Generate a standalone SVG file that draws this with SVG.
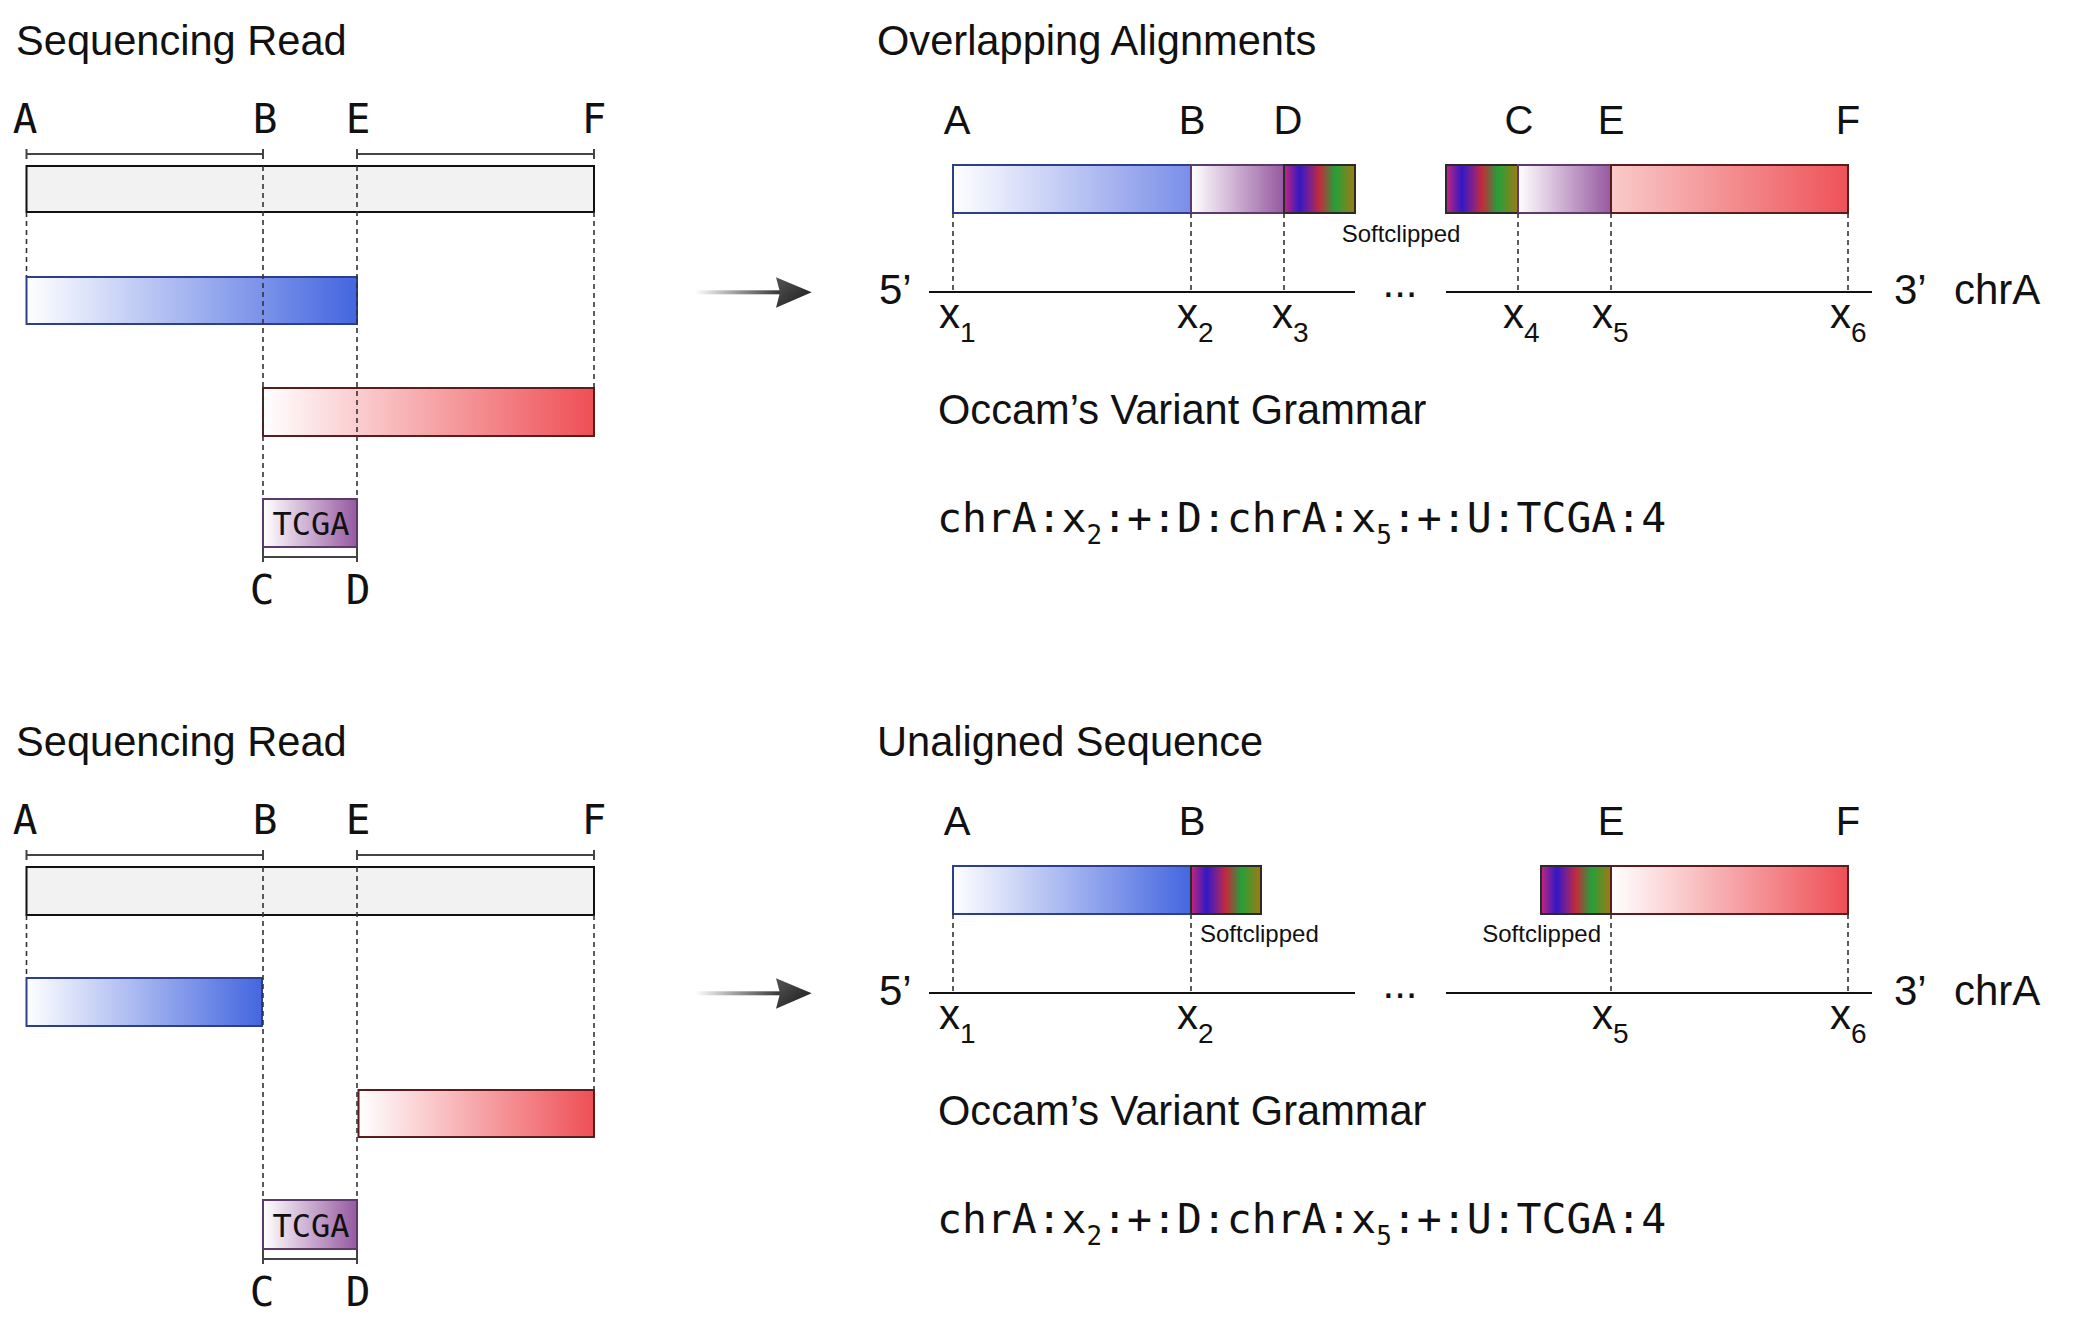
<svg xmlns="http://www.w3.org/2000/svg" width="2073" height="1335" viewBox="0 0 2073 1335">
<style>
.title{font-family:"Liberation Sans",Arial,sans-serif;font-size:41.6px;fill:#111}
.lab{font-family:"Liberation Sans",Arial,sans-serif;font-size:40px;fill:#111;text-anchor:middle}
.mlab{font-family:"DejaVu Sans Mono",monospace;font-size:41px;fill:#111;text-anchor:middle}
.xl{font-family:"Liberation Sans",Arial,sans-serif;font-size:42px;fill:#111}
.sub{font-size:28px}
.msub{font-size:26px}
.soft{font-family:"Liberation Sans",Arial,sans-serif;font-size:24px;fill:#111}
.gram{font-family:"DejaVu Sans Mono",monospace;font-size:41.4px;fill:#111}
.tcga{font-family:"DejaVu Sans Mono",monospace;font-size:32px;fill:#111;text-anchor:middle}
.grey{fill:#f2f2f2;stroke:#111;stroke-width:2}
.blue{stroke:#2c3e8e;stroke-width:2}
.red{stroke:#5b1c1e;stroke-width:2}
.purp{stroke:#5c3a6c;stroke-width:2}
.rain{fill:url(#gRain);stroke:#2a2a2a;stroke-width:2}
.range{stroke:#444;stroke-width:2;fill:none}
.dash{stroke:#333;stroke-width:1.6;stroke-dasharray:5 4;fill:none}
.chr{stroke:#111;stroke-width:2;fill:none}
</style>
<defs>
<linearGradient id="gBlue" x1="0" y1="0" x2="1" y2="0"><stop offset="0" stop-color="#ffffff"/><stop offset="1" stop-color="#4466e0"/></linearGradient>
<linearGradient id="gBlueL" x1="0" y1="0" x2="1" y2="0"><stop offset="0" stop-color="#ffffff"/><stop offset="1" stop-color="#7a8ee8"/></linearGradient>
<linearGradient id="gRed" x1="0" y1="0" x2="1" y2="0"><stop offset="0" stop-color="#ffffff"/><stop offset="1" stop-color="#ee4f55"/></linearGradient>
<linearGradient id="gRedL" x1="0" y1="0" x2="1" y2="0"><stop offset="0" stop-color="#f9caca"/><stop offset="1" stop-color="#ee5258"/></linearGradient>
<linearGradient id="gPurp" x1="0" y1="0" x2="1" y2="0"><stop offset="0" stop-color="#ffffff"/><stop offset="1" stop-color="#9659a0"/></linearGradient>
<linearGradient id="gRain" x1="0" y1="0" x2="1" y2="0">
<stop offset="0" stop-color="#c4277a"/><stop offset="0.22" stop-color="#3318c4"/><stop offset="0.36" stop-color="#7a2090"/><stop offset="0.5" stop-color="#c42a3a"/><stop offset="0.72" stop-color="#25a03a"/><stop offset="1" stop-color="#a07a12"/></linearGradient>
<linearGradient id="gShaft" x1="0" y1="0" x2="1" y2="0"><stop offset="0" stop-color="#333" stop-opacity="0"/><stop offset="1" stop-color="#333"/></linearGradient>
<linearGradient id="gHead" x1="0" y1="0" x2="1" y2="1"><stop offset="0" stop-color="#555"/><stop offset="1" stop-color="#1a1a1a"/></linearGradient>
</defs>
<rect width="2073" height="1335" fill="#fff"/>

<!-- ===== TOP PANEL ===== -->
<g id="top-read">
<text class="title" x="16" y="55">Sequencing Read</text>
<text class="mlab" x="25" y="133">A</text>
<text class="mlab" x="265" y="133">B</text>
<text class="mlab" x="358" y="133">E</text>
<text class="mlab" x="594" y="133">F</text>
<path class="range" d="M26.5 154H263M26.5 149V159M263 149V159M357 154H594M357 149V159M594 149V159"/>
<rect class="grey" x="26.5" y="166" width="567.5" height="46"/>
</g>
<g id="top-blue"><rect class="blue" fill="url(#gBlue)" x="26.5" y="277" width="330.5" height="47"/></g>
<g id="top-red"><rect class="red" fill="url(#gRed)" x="263" y="388" width="331" height="48"/></g>
<g id="top-tcga">
<rect class="purp" fill="url(#gPurp)" x="263" y="499" width="94" height="48"/>
<text class="tcga" x="311" y="535">TCGA</text>
<path class="range" d="M263 557H357M263 547V562M357 547V562"/>
<text class="mlab" x="262" y="604">C</text>
<text class="mlab" x="358" y="604">D</text>
</g>

<g id="top-align">
<text class="title" x="877" y="55">Overlapping Alignments</text>
<text class="lab" x="957" y="134">A</text>
<text class="lab" x="1192" y="134">B</text>
<text class="lab" x="1288" y="134">D</text>
<text class="lab" x="1519" y="134">C</text>
<text class="lab" x="1611" y="134">E</text>
<text class="lab" x="1848" y="134">F</text>
<rect class="blue" fill="url(#gBlueL)" x="953" y="165" width="238" height="48"/>
<rect class="purp" fill="url(#gPurp)" x="1191" y="165" width="93" height="48"/>
<rect class="rain" x="1284" y="165" width="71" height="48"/>
<rect class="rain" x="1446" y="165" width="72" height="48"/>
<rect class="purp" fill="url(#gPurp)" x="1518" y="165" width="93" height="48"/>
<rect class="red" fill="url(#gRedL)" x="1611" y="165" width="237" height="48"/>
<text class="soft" x="1401" y="242" text-anchor="middle">Softclipped</text>
</g>
<g id="top-chr">
<path class="chr" d="M929 292H1355M1446 292H1872"/>
<text class="xl" x="879" y="304">5’</text>
<text class="xl" x="1400" y="297" text-anchor="middle">...</text>
<text class="xl" x="1894" y="304">3’</text>
<text class="xl" x="1954" y="304">chrA</text>
<text class="xl" x="939" y="328">x<tspan class="sub" dy="14">1</tspan></text>
<text class="xl" x="1177" y="328">x<tspan class="sub" dy="14">2</tspan></text>
<text class="xl" x="1272" y="328">x<tspan class="sub" dy="14">3</tspan></text>
<text class="xl" x="1503" y="328">x<tspan class="sub" dy="14">4</tspan></text>
<text class="xl" x="1592" y="328">x<tspan class="sub" dy="14">5</tspan></text>
<text class="xl" x="1830" y="328">x<tspan class="sub" dy="14">6</tspan></text>
</g>
<g id="top-grammar">
<text class="title" x="938" y="424">Occam’s Variant Grammar</text>
<text class="gram" x="937" y="532">chrA:x<tspan class="msub" dy="12">2</tspan><tspan dy="-12">:+:D:chrA:x</tspan><tspan class="msub" dy="12">5</tspan><tspan dy="-12">:+:U:TCGA:4</tspan></text>
</g>

<!-- ===== BOTTOM PANEL ===== -->
<g id="bot-read">
<text class="title" x="16" y="756">Sequencing Read</text>
<text class="mlab" x="25" y="834">A</text>
<text class="mlab" x="265" y="834">B</text>
<text class="mlab" x="358" y="834">E</text>
<text class="mlab" x="594" y="834">F</text>
<path class="range" d="M26.5 855H263M26.5 850V860M263 850V860M357 855H594M357 850V860M594 850V860"/>
<rect class="grey" x="26.5" y="867" width="567.5" height="48"/>
</g>
<g id="bot-blue"><rect class="blue" fill="url(#gBlue)" x="26.5" y="978" width="235.5" height="48"/></g>
<g id="bot-red"><rect class="red" fill="url(#gRed)" x="358.5" y="1090" width="235.5" height="47"/></g>
<g id="bot-tcga">
<rect class="purp" fill="url(#gPurp)" x="263" y="1200" width="94" height="49"/>
<text class="tcga" x="311" y="1237">TCGA</text>
<path class="range" d="M263 1259H357M263 1249V1264M357 1249V1264"/>
<text class="mlab" x="262" y="1306">C</text>
<text class="mlab" x="358" y="1306">D</text>
</g>

<g id="bot-align">
<text class="title" x="877" y="756">Unaligned Sequence</text>
<text class="lab" x="957" y="835">A</text>
<text class="lab" x="1192" y="835">B</text>
<text class="lab" x="1611" y="835">E</text>
<text class="lab" x="1848" y="835">F</text>
<rect class="blue" fill="url(#gBlue)" x="953" y="866" width="238" height="48"/>
<rect class="rain" x="1191" y="866" width="70" height="48"/>
<rect class="rain" x="1541" y="866" width="70" height="48"/>
<rect class="red" fill="url(#gRed)" x="1611" y="866" width="237" height="48"/>
<text class="soft" x="1200" y="942">Softclipped</text>
<text class="soft" x="1601" y="942" text-anchor="end">Softclipped</text>
</g>
<g id="bot-chr">
<path class="chr" d="M929 993H1355M1446 993H1872"/>
<text class="xl" x="879" y="1005">5’</text>
<text class="xl" x="1400" y="998" text-anchor="middle">...</text>
<text class="xl" x="1894" y="1005">3’</text>
<text class="xl" x="1954" y="1005">chrA</text>
<text class="xl" x="939" y="1029">x<tspan class="sub" dy="14">1</tspan></text>
<text class="xl" x="1177" y="1029">x<tspan class="sub" dy="14">2</tspan></text>
<text class="xl" x="1592" y="1029">x<tspan class="sub" dy="14">5</tspan></text>
<text class="xl" x="1830" y="1029">x<tspan class="sub" dy="14">6</tspan></text>
</g>
<g id="bot-grammar">
<text class="title" x="938" y="1125">Occam’s Variant Grammar</text>
<text class="gram" x="937" y="1233">chrA:x<tspan class="msub" dy="12">2</tspan><tspan dy="-12">:+:D:chrA:x</tspan><tspan class="msub" dy="12">5</tspan><tspan dy="-12">:+:U:TCGA:4</tspan></text>
</g>

<!-- ===== CONNECTORS ===== -->
<g id="connectors">
<path class="dash" d="M26.5 212V277M263 166V499M357 166V499M594 212V388"/>
<path class="dash" d="M953 213V292M1191 213V292M1284 213V292M1518 213V292M1611 213V292M1848 213V292"/>
<path class="dash" d="M26.5 915V978M263 867V1200M357 867V1200M594 915V1090"/>
<path class="dash" d="M953 914V993M1191 914V993M1611 914V993M1848 914V993"/>
<rect x="695" y="290.3" width="86" height="4" fill="url(#gShaft)"/>
<path d="M811.7 292.3L776 277.3L780 292.3L776 307.7Z" fill="url(#gHead)"/>
<rect x="695" y="991.3" width="86" height="4" fill="url(#gShaft)"/>
<path d="M811.7 993.3L776 978.3L780 993.3L776 1008.7Z" fill="url(#gHead)"/>
</g>
</svg>
